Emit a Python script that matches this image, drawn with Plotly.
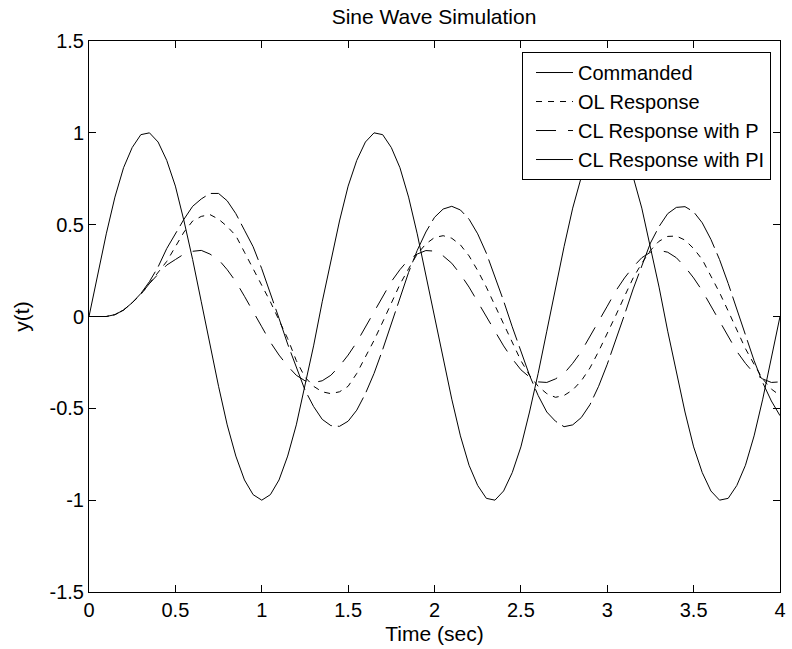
import plotly.graph_objects as go

time_sec = [0.00, 0.05, 0.10, 0.15, 0.20, 0.25, 0.30, 0.35, 0.40, 0.45,
            0.50, 0.55, 0.60, 0.65, 0.70, 0.75, 0.80, 0.85, 0.90, 0.95,
            1.00, 1.05, 1.10, 1.15, 1.20, 1.25, 1.30, 1.35, 1.40, 1.45,
            1.50, 1.55, 1.60, 1.65, 1.70, 1.75, 1.80, 1.85, 1.90, 1.95,
            2.00, 2.05, 2.10, 2.15, 2.20, 2.25, 2.30, 2.35, 2.40, 2.45,
            2.50, 2.55, 2.60, 2.65, 2.70, 2.75, 2.80, 2.85, 2.90, 2.95,
            3.00, 3.05, 3.10, 3.15, 3.20, 3.25, 3.30, 3.35, 3.40, 3.45,
            3.50, 3.55, 3.60, 3.65, 3.70, 3.75, 3.80, 3.85, 3.90, 3.95,
            4.00]

commanded = [0, 0.23, 0.45, 0.65, 0.81, 0.92, 0.99, 1.00, 0.95, 0.85,
             0.71, 0.52, 0.31, 0.08, -0.16, -0.38, -0.59, -0.76, -0.89, -0.97,
             -1.00, -0.97, -0.89, -0.76, -0.59, -0.38, -0.16, 0.08, 0.31, 0.52,
             0.71, 0.85, 0.95, 1.00, 0.99, 0.92, 0.81, 0.65, 0.45, 0.23,
             0.00, -0.23, -0.45, -0.65, -0.81, -0.92, -0.99, -1.00, -0.95, -0.85,
             -0.71, -0.52, -0.31, -0.08, 0.16, 0.38, 0.59, 0.76, 0.89, 0.97,
             1.00, 0.97, 0.89, 0.76, 0.59, 0.38, 0.16, -0.08, -0.31, -0.52,
             -0.71, -0.85, -0.95, -1.00, -0.99, -0.92, -0.81, -0.65, -0.45, -0.23,
             0.00]

ol_response = [0, 0, 0, 0.01, 0.035, 0.075, 0.12, 0.18, 0.24, 0.30,
               0.38, 0.46, 0.52, 0.545, 0.555, 0.53, 0.49, 0.44, 0.35, 0.26,
               0.17, 0.08, -0.02, -0.12, -0.24, -0.33, -0.38, -0.41, -0.42, -0.41,
               -0.38, -0.31, -0.22, -0.13, -0.03, 0.076, 0.175, 0.26, 0.34, 0.395,
               0.43, 0.44, 0.426, 0.39, 0.33, 0.25, 0.16, 0.06, -0.04, -0.14,
               -0.24, -0.32, -0.38, -0.42, -0.44, -0.43, -0.40, -0.35, -0.28, -0.19,
               -0.096, 0.007, 0.11, 0.21, 0.29, 0.36, 0.41, 0.436, 0.438, 0.416,
               0.37, 0.31, 0.22, 0.13, 0.03, -0.076, -0.175, -0.26, -0.34, -0.395,
               -0.43]

cl_p_response = [0, 0, 0, 0.01, 0.035, 0.075, 0.12, 0.18, 0.23, 0.28,
                 0.31, 0.34, 0.355, 0.36, 0.34, 0.31, 0.255, 0.19, 0.11, 0.03,
                 -0.056, -0.14, -0.21, -0.27, -0.32, -0.35, -0.36, -0.35, -0.32, -0.27,
                 -0.21, -0.14, -0.056, 0.03, 0.11, 0.19, 0.255, 0.31, 0.34, 0.359,
                 0.356, 0.33, 0.29, 0.23, 0.16, 0.08, 0, -0.08, -0.16, -0.23,
                 -0.29, -0.33, -0.356, -0.359, -0.34, -0.31, -0.255, -0.19, -0.11, -0.03,
                 0.056, 0.14, 0.21, 0.27, 0.32, 0.35, 0.36, 0.35, 0.32, 0.27,
                 0.21, 0.14, 0.056, -0.03, -0.11, -0.19, -0.255, -0.31, -0.34, -0.359,
                 -0.356]

cl_pi_response = [0, 0, 0, 0.01, 0.035, 0.075, 0.125, 0.19, 0.27, 0.37,
                  0.45, 0.53, 0.60, 0.64, 0.67, 0.67, 0.63, 0.56, 0.47, 0.38,
                  0.26, 0.13, -0.01, -0.15, -0.28, -0.40, -0.49, -0.56, -0.594, -0.598,
                  -0.57, -0.51, -0.42, -0.31, -0.18, -0.04, 0.10, 0.24, 0.36, 0.46,
                  0.54, 0.585, 0.60, 0.58, 0.53, 0.45, 0.345, 0.22, 0.085, -0.056,
                  -0.19, -0.32, -0.43, -0.52, -0.57, -0.60, -0.59, -0.55, -0.48, -0.38,
                  -0.26, -0.13, 0.01, 0.15, 0.28, 0.40, 0.49, 0.56, 0.594, 0.598,
                  0.57, 0.51, 0.42, 0.31, 0.18, 0.04, -0.10, -0.24, -0.36, -0.46,
                  -0.54]

series_names = ["Commanded", "OL Response", "CL Response with P", "CL Response with PI"]

x_tick_vals = [0, 0.5, 1, 1.5, 2, 2.5, 3, 3.5, 4]
x_tick_text = ["0", "0.5", "1", "1.5", "2", "2.5", "3", "3.5", "4"]
y_tick_vals = [-1.5, -1, -0.5, 0, 0.5, 1, 1.5]
y_tick_text = ["-1.5", "-1", "-0.5", "0", "0.5", "1", "1.5"]

FONT = "Liberation Sans, Arial, Helvetica, sans-serif"

styles = [
    dict(color="black", width=1, dash="solid"),
    dict(color="black", width=1, dash="6px,6px"),
    dict(color="black", width=1, dash="20px,12px"),
    dict(color="black", width=1, dash="40px,6px"),
]

fig = go.Figure()
for name, ys, st in zip(series_names,
                        [commanded, ol_response, cl_p_response, cl_pi_response],
                        styles):
    fig.add_trace(go.Scatter(x=time_sec, y=ys, mode="lines", name=name, line=st))

axis_common = dict(
    showgrid=False, zeroline=False, showline=True, linecolor="black", linewidth=1,
    mirror="ticks", ticks="inside", ticklen=7, tickcolor="black", tickwidth=1,
    tickfont=dict(family=FONT, size=20, color="black"),
    ticklabeloverflow="allow",
)

fig.update_layout(
    width=792, height=649,
    margin=dict(l=89, r=6, t=41, b=57),
    paper_bgcolor="white", plot_bgcolor="white",
    font=dict(family=FONT, color="black"),
    title=dict(text="Sine Wave Simulation", x=0.548, xanchor="center",
               y=0.975, yanchor="middle", yref="container",
               font=dict(family=FONT, size=21, color="black")),
    xaxis=dict(range=[0, 4], tickvals=x_tick_vals, ticktext=x_tick_text,
               title=dict(text="Time (sec)", standoff=6,
                          font=dict(family=FONT, size=21, color="black")),
               **axis_common),
    yaxis=dict(range=[-1.5, 1.5], tickvals=y_tick_vals, ticktext=y_tick_text,
               title=dict(text="y(t)", standoff=14,
                          font=dict(family=FONT, size=21, color="black")),
               **axis_common),
    legend=dict(x=0.987, y=0.98, xanchor="right", yanchor="top",
                bgcolor="white", bordercolor="black", borderwidth=1,
                font=dict(family=FONT, size=20, color="black"),
                itemwidth=37, tracegroupgap=0, indentation=8),
    showlegend=True,
)

fig.write_html("out.html")
